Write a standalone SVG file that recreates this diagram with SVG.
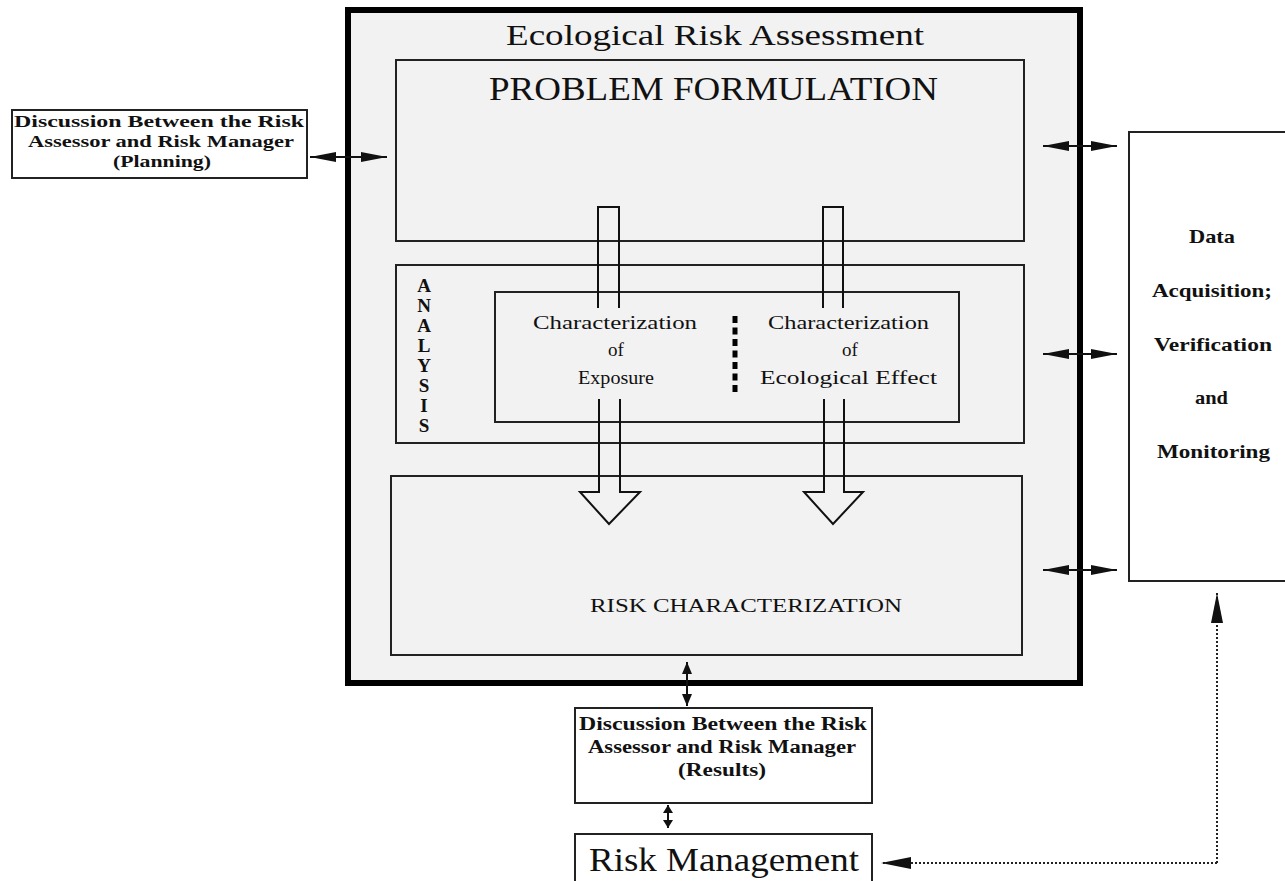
<svg xmlns="http://www.w3.org/2000/svg" width="1285" height="881" viewBox="0 0 1285 881">
<style>
text{font-family:"Liberation Serif","Times New Roman",serif;fill:#111}
.box{fill:#f2f2f2;stroke:#222;stroke-width:2}
.wbox{fill:#fff;stroke:#222;stroke-width:2}
.b{font-weight:bold}
.c{text-anchor:middle}
.conn{fill:none;stroke:#111;stroke-width:2}
.hollow{fill:none;stroke:#111;stroke-width:2;stroke-linejoin:miter}
.dot{fill:none;stroke:#222;stroke-width:2;stroke-dasharray:2 2}
</style>
<defs>
<marker id="ah" markerUnits="userSpaceOnUse" markerWidth="26" markerHeight="10" refX="26" refY="5" orient="auto-start-reverse"><path d="M0,0 L26,5 L0,10 z" fill="#111"/></marker>
<marker id="as" markerUnits="userSpaceOnUse" markerWidth="12" markerHeight="10" refX="12" refY="5" orient="auto-start-reverse"><path d="M0,0 L12,5 L0,10 z" fill="#111"/></marker>
<marker id="ax" markerUnits="userSpaceOnUse" markerWidth="8" markerHeight="10" refX="8" refY="5" orient="auto-start-reverse"><path d="M0,0 L8,5 L0,10 z" fill="#111"/></marker>
<marker id="ad" markerUnits="userSpaceOnUse" markerWidth="30" markerHeight="12" refX="30" refY="6" orient="auto-start-reverse"><path d="M0,0 L30,6 L0,12 z" fill="#111"/></marker>
</defs>
<rect width="1285" height="881" fill="#fff"/>

<g id="era">
<rect x="348" y="10" width="732" height="673" fill="#f2f2f2" stroke="#000" stroke-width="6"/>
<text x="506" y="45" font-size="30" textLength="418" lengthAdjust="spacingAndGlyphs">Ecological Risk Assessment</text>
</g>

<g id="problem-formulation">
<rect class="box" x="396" y="60" width="628" height="181"/>
<text x="489" y="100" font-size="33" textLength="449" lengthAdjust="spacingAndGlyphs">PROBLEM FORMULATION</text>
</g>

<g id="analysis">
<rect class="box" x="396" y="265" width="628" height="178"/>
<g class="b c" font-size="19">
<text x="424" y="292">A</text><text x="424" y="312">N</text><text x="424" y="332">A</text><text x="424" y="352">L</text><text x="424" y="372">Y</text><text x="424" y="392">S</text><text x="424" y="412">I</text><text x="424" y="432">S</text>
</g>
</g>

<g id="characterization">
<rect class="box" x="495" y="292" width="464" height="130"/>
<line x1="735" y1="316" x2="735" y2="392" stroke="#000" stroke-width="5" stroke-dasharray="7 4.5"/>
</g>

<g id="exposure">
<text x="533" y="329" font-size="19" textLength="164" lengthAdjust="spacingAndGlyphs">Characterization</text>
<text class="c" x="616" y="356" font-size="19">of</text>
<text x="578" y="384" font-size="19" textLength="76" lengthAdjust="spacingAndGlyphs">Exposure</text>
</g>

<g id="ecological-effect">
<text x="768" y="329" font-size="19" textLength="161" lengthAdjust="spacingAndGlyphs">Characterization</text>
<text class="c" x="850" y="356" font-size="19">of</text>
<text x="760" y="384" font-size="19" textLength="177" lengthAdjust="spacingAndGlyphs">Ecological  Effect</text>
</g>

<g id="risk-characterization">
<rect class="box" x="391" y="476" width="631" height="179"/>
<text x="590" y="612" font-size="19" textLength="312" lengthAdjust="spacingAndGlyphs">RISK CHARACTERIZATION</text>
</g>

<g id="planning">
<rect class="wbox" x="12" y="110" width="295" height="68"/>
<g class="b" font-size="17">
<text x="14" y="127" textLength="290" lengthAdjust="spacingAndGlyphs">Discussion Between the Risk</text>
<text x="28" y="147" textLength="266" lengthAdjust="spacingAndGlyphs">Assessor and Risk Manager</text>
<text x="113" y="167" textLength="98" lengthAdjust="spacingAndGlyphs">(Planning)</text>
</g>
</g>

<g id="data">
<rect class="wbox" x="1129" y="132" width="170" height="449"/>
<g class="b" font-size="19">
<text x="1189" y="243" textLength="46" lengthAdjust="spacingAndGlyphs">Data</text>
<text x="1152" y="297" textLength="120" lengthAdjust="spacingAndGlyphs">Acquisition;</text>
<text x="1154" y="351" textLength="118" lengthAdjust="spacingAndGlyphs">Verification</text>
<text x="1195" y="404" textLength="33" lengthAdjust="spacingAndGlyphs">and</text>
<text x="1157" y="458" textLength="113" lengthAdjust="spacingAndGlyphs">Monitoring</text>
</g>
</g>

<g id="results">
<rect class="wbox" x="575" y="708" width="297" height="95"/>
<g class="b" font-size="18">
<text x="579" y="730" textLength="288" lengthAdjust="spacingAndGlyphs">Discussion Between the Risk</text>
<text x="588" y="753" textLength="268" lengthAdjust="spacingAndGlyphs">Assessor and Risk Manager</text>
<text x="678" y="776" textLength="88" lengthAdjust="spacingAndGlyphs">(Results)</text>
</g>
</g>

<g id="risk-management">
<rect class="wbox" x="575" y="834" width="297" height="60"/>
<text x="589" y="871" font-size="33" textLength="270" lengthAdjust="spacingAndGlyphs">Risk Management</text>
</g>

<g id="connectors">
<path class="hollow" d="M598,308 V207 H619 V308"/>
<path class="hollow" d="M599,399 V492 H580 L609,524 L640,492 H620 V399"/>
<path class="hollow" d="M823,308 V207 H843 V308"/>
<path class="hollow" d="M824,399 V492 H804 L833,524 L863,492 H844 V399"/>
<line class="conn" x1="310" y1="157" x2="387" y2="157" marker-start="url(#ah)" marker-end="url(#ah)"/>
<line class="conn" x1="1043" y1="146" x2="1117" y2="146" marker-start="url(#ah)" marker-end="url(#ah)"/>
<line class="conn" x1="1043" y1="354" x2="1117" y2="354" marker-start="url(#ah)" marker-end="url(#ah)"/>
<line class="conn" x1="1043" y1="570" x2="1117" y2="570" marker-start="url(#ah)" marker-end="url(#ah)"/>
<line class="conn" x1="687" y1="662" x2="687" y2="706" marker-start="url(#as)" marker-end="url(#as)"/>
<line class="conn" x1="668" y1="805" x2="668" y2="828" marker-start="url(#ax)" marker-end="url(#ax)"/>
<path class="dot" d="M1217,863 H881" marker-end="url(#ad)"/>
<path class="dot" d="M1217,863 V593" marker-end="url(#ad)"/>
</g>
</svg>
